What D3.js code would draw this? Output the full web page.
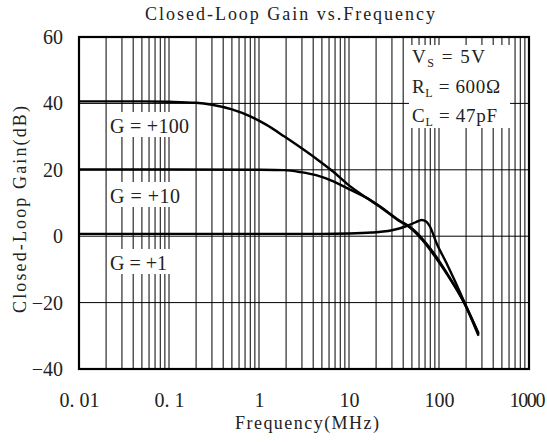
<!DOCTYPE html>
<html>
<head>
<meta charset="utf-8">
<script src="https://cdn.jsdelivr.net/npm/d3@7"></script>
<style>
  body { margin: 0; background: #fff; }
  svg { display: block; }
</style>
</head>
<body>
<script>
// Data (frequency in MHz, gain in dB)
var g100Freq = [0.01, 0.05, 0.1, 0.2, 0.3, 0.5, 0.8, 1.2, 1.9, 2.9, 4.4, 6.7, 10, 16, 22, 37, 47, 66, 94, 121, 190, 275];
var g100Gain = [40.6, 40.6, 40.5, 40.2, 39.6, 38.2, 36.1, 33.6, 30.1, 26.7, 23.2, 19.4, 15.3, 11.4, 8.9, 4.4, 2.7, -1.3, -6.8, -11.2, -20.1, -29.5];

var g10Freq = [0.01, 0.1, 1, 1.9, 2.9, 4.4, 6.7, 10, 16, 22, 37, 47, 66, 94, 121, 190, 275];
var g10Gain = [20.1, 20.1, 20.0, 19.9, 19.3, 18.3, 16.5, 14.2, 11.4, 9.0, 4.6, 2.9, -0.9, -6.3, -10.9, -19.9, -29.2];

var g1Freq = [0.01, 0.1, 1, 5, 10, 18, 24, 30, 37, 47, 55, 64, 72, 79, 94, 121, 189, 275];
var g1Gain = [0.7, 0.7, 0.7, 0.7, 0.8, 1.1, 1.4, 1.8, 2.4, 3.4, 4.2, 4.9, 4.4, 3.0, -2.1, -8.1, -19.5, -30.0];

var xTickValues = [0.01, 0.1, 1, 10, 100, 1000];
var xTickLabels = ["0. 01", "0. 1", "1", "10", "100", "1000"];
var yTickValues = [-40, -20, 0, 20, 40, 60];
var yGridValues = [-20, 0, 20, 40];

var seriesLabels = ["G = +100", "G = +10", "G = +1"];
var seriesLabelY = [133, 203, 270];
var seriesLabelLen = [79, 70, 57];

var width = 547, height = 442;
var plotL = 79, plotR = 529, plotT = 37, plotB = 369;

var svg = d3.select("body")
    .append("svg")
    .attr("width", width)
    .attr("height", height);

var xScale = d3.scaleLog()
    .domain([0.01, 1000])
    .range([plotL, plotR]);

var yScale = d3.scaleLinear()
    .domain([-40, 60])
    .range([plotB, plotT]);

// minor + major vertical grid (1..9 per decade)
var vGrid = [];
for (var e = -2; e <= 2; e++) {
    for (var k = 1; k <= 9; k++) {
        var v = k * Math.pow(10, e);
        if (v > 0.01 && v < 1000) vGrid.push(v);
    }
}

svg.append("g").selectAll("line")
    .data(vGrid)
    .enter()
    .append("line")
    .attr("x1", function(d) { return xScale(d); })
    .attr("x2", function(d) { return xScale(d); })
    .attr("y1", plotT)
    .attr("y2", plotB)
    .attr("stroke", "#000")
    .attr("stroke-width", 1);

svg.append("g").selectAll("line")
    .data(yGridValues)
    .enter()
    .append("line")
    .attr("x1", plotL)
    .attr("x2", plotR)
    .attr("y1", function(d) { return yScale(d); })
    .attr("y2", function(d) { return yScale(d); })
    .attr("stroke", "#000")
    .attr("stroke-width", 1);

// white boxes behind labels hide the grid
svg.append("rect").attr("x", 409).attr("y", 45).attr("width", 101).attr("height", 83).attr("fill", "#fff");
svg.append("g").selectAll("rect")
    .data(seriesLabelY)
    .enter()
    .append("rect")
    .attr("x", 108)
    .attr("y", function(d) { return d - 21; })
    .attr("width", 84)
    .attr("height", 25)
    .attr("fill", "#fff");

// curves
var line = d3.line()
    .x(function(d) { return xScale(d[0]); })
    .y(function(d) { return yScale(d[1]); })
    .curve(d3.curveMonotoneX);

var series = [d3.zip(g100Freq, g100Gain), d3.zip(g10Freq, g10Gain), d3.zip(g1Freq, g1Gain)];

svg.append("g").selectAll("path")
    .data(series)
    .enter()
    .append("path")
    .attr("d", line)
    .attr("fill", "none")
    .attr("stroke", "#000")
    .attr("stroke-width", 2.4)
    .attr("stroke-linejoin", "round");

// frame
svg.append("rect")
    .attr("x", plotL)
    .attr("y", plotT)
    .attr("width", plotR - plotL)
    .attr("height", plotB - plotT)
    .attr("fill", "none")
    .attr("stroke", "#000")
    .attr("stroke-width", 2.2);

// axes
var xAxis = d3.axisBottom(xScale)
    .tickValues(xTickValues)
    .tickFormat(function(d, i) { return xTickLabels[i]; })
    .tickSize(0)
    .tickPadding(24);

var yAxis = d3.axisLeft(yScale)
    .tickValues(yTickValues)
    .tickSize(0)
    .tickPadding(16);

var gx = svg.append("g").attr("transform", "translate(0," + plotB + ")").call(xAxis);
var gy = svg.append("g").attr("transform", "translate(" + plotL + ",0)").call(yAxis);

[gx, gy].forEach(function(g) {
    g.select(".domain").remove();
    g.selectAll("text")
        .attr("font-family", "Liberation Serif, serif")
        .attr("font-size", 20)
        .attr("fill", "#222");
});
// keep "1000" inside the page
gx.selectAll("text").filter(function(d) { return d === 1000; }).attr("dx", -2).attr("textLength", 36);

// titles
svg.append("text")
    .text("Closed-Loop Gain vs.Frequency")
    .attr("x", 145).attr("y", 20)
    .attr("textLength", 290)
    .attr("lengthAdjust", "spacing")
    .attr("font-family", "Liberation Serif, serif")
    .attr("font-size", 18)
    .attr("fill", "#222");

svg.append("text")
    .text("Frequency(MHz)")
    .attr("x", 235).attr("y", 429)
    .attr("textLength", 144)
    .attr("lengthAdjust", "spacing")
    .attr("font-family", "Liberation Serif, serif")
    .attr("font-size", 18)
    .attr("fill", "#222");

svg.append("text")
    .text("Closed-Loop Gain(dB)")
    .attr("transform", "translate(26,313) rotate(-90)")
    .attr("textLength", 207)
    .attr("lengthAdjust", "spacing")
    .attr("font-family", "Liberation Serif, serif")
    .attr("font-size", 18)
    .attr("fill", "#222");

// series labels
svg.append("g").selectAll("text")
    .data(seriesLabels)
    .enter()
    .append("text")
    .text(function(d) { return d; })
    .attr("x", 110)
    .attr("y", function(d, i) { return seriesLabelY[i]; })
    .attr("textLength", function(d, i) { return seriesLabelLen[i]; })
    .attr("lengthAdjust", "spacing")
    .attr("font-family", "Liberation Serif, serif")
    .attr("font-size", 20)
    .attr("fill", "#222");

// conditions box
var conds = [
    { main: "V", sub: "S", rest: " = 5V", y: 63, len: 73 },
    { main: "R", sub: "L", rest: " = 600\u03A9", y: 93, len: 88 },
    { main: "C", sub: "L", rest: " = 47pF", y: 122, len: 85 }
];

conds.forEach(function(c) {
    var t = svg.append("text")
        .attr("x", 412)
        .attr("y", c.y)
        .attr("font-family", "Liberation Serif, serif")
        .attr("font-size", 19)
        .attr("fill", "#222")
        .attr("textLength", c.len)
        .attr("lengthAdjust", "spacing");
    t.append("tspan").text(c.main);
    t.append("tspan").text(c.sub).attr("font-size", 12).attr("dy", 4);
    t.append("tspan").text(c.rest).attr("dy", -4);
});
</script>
</body>
</html>
